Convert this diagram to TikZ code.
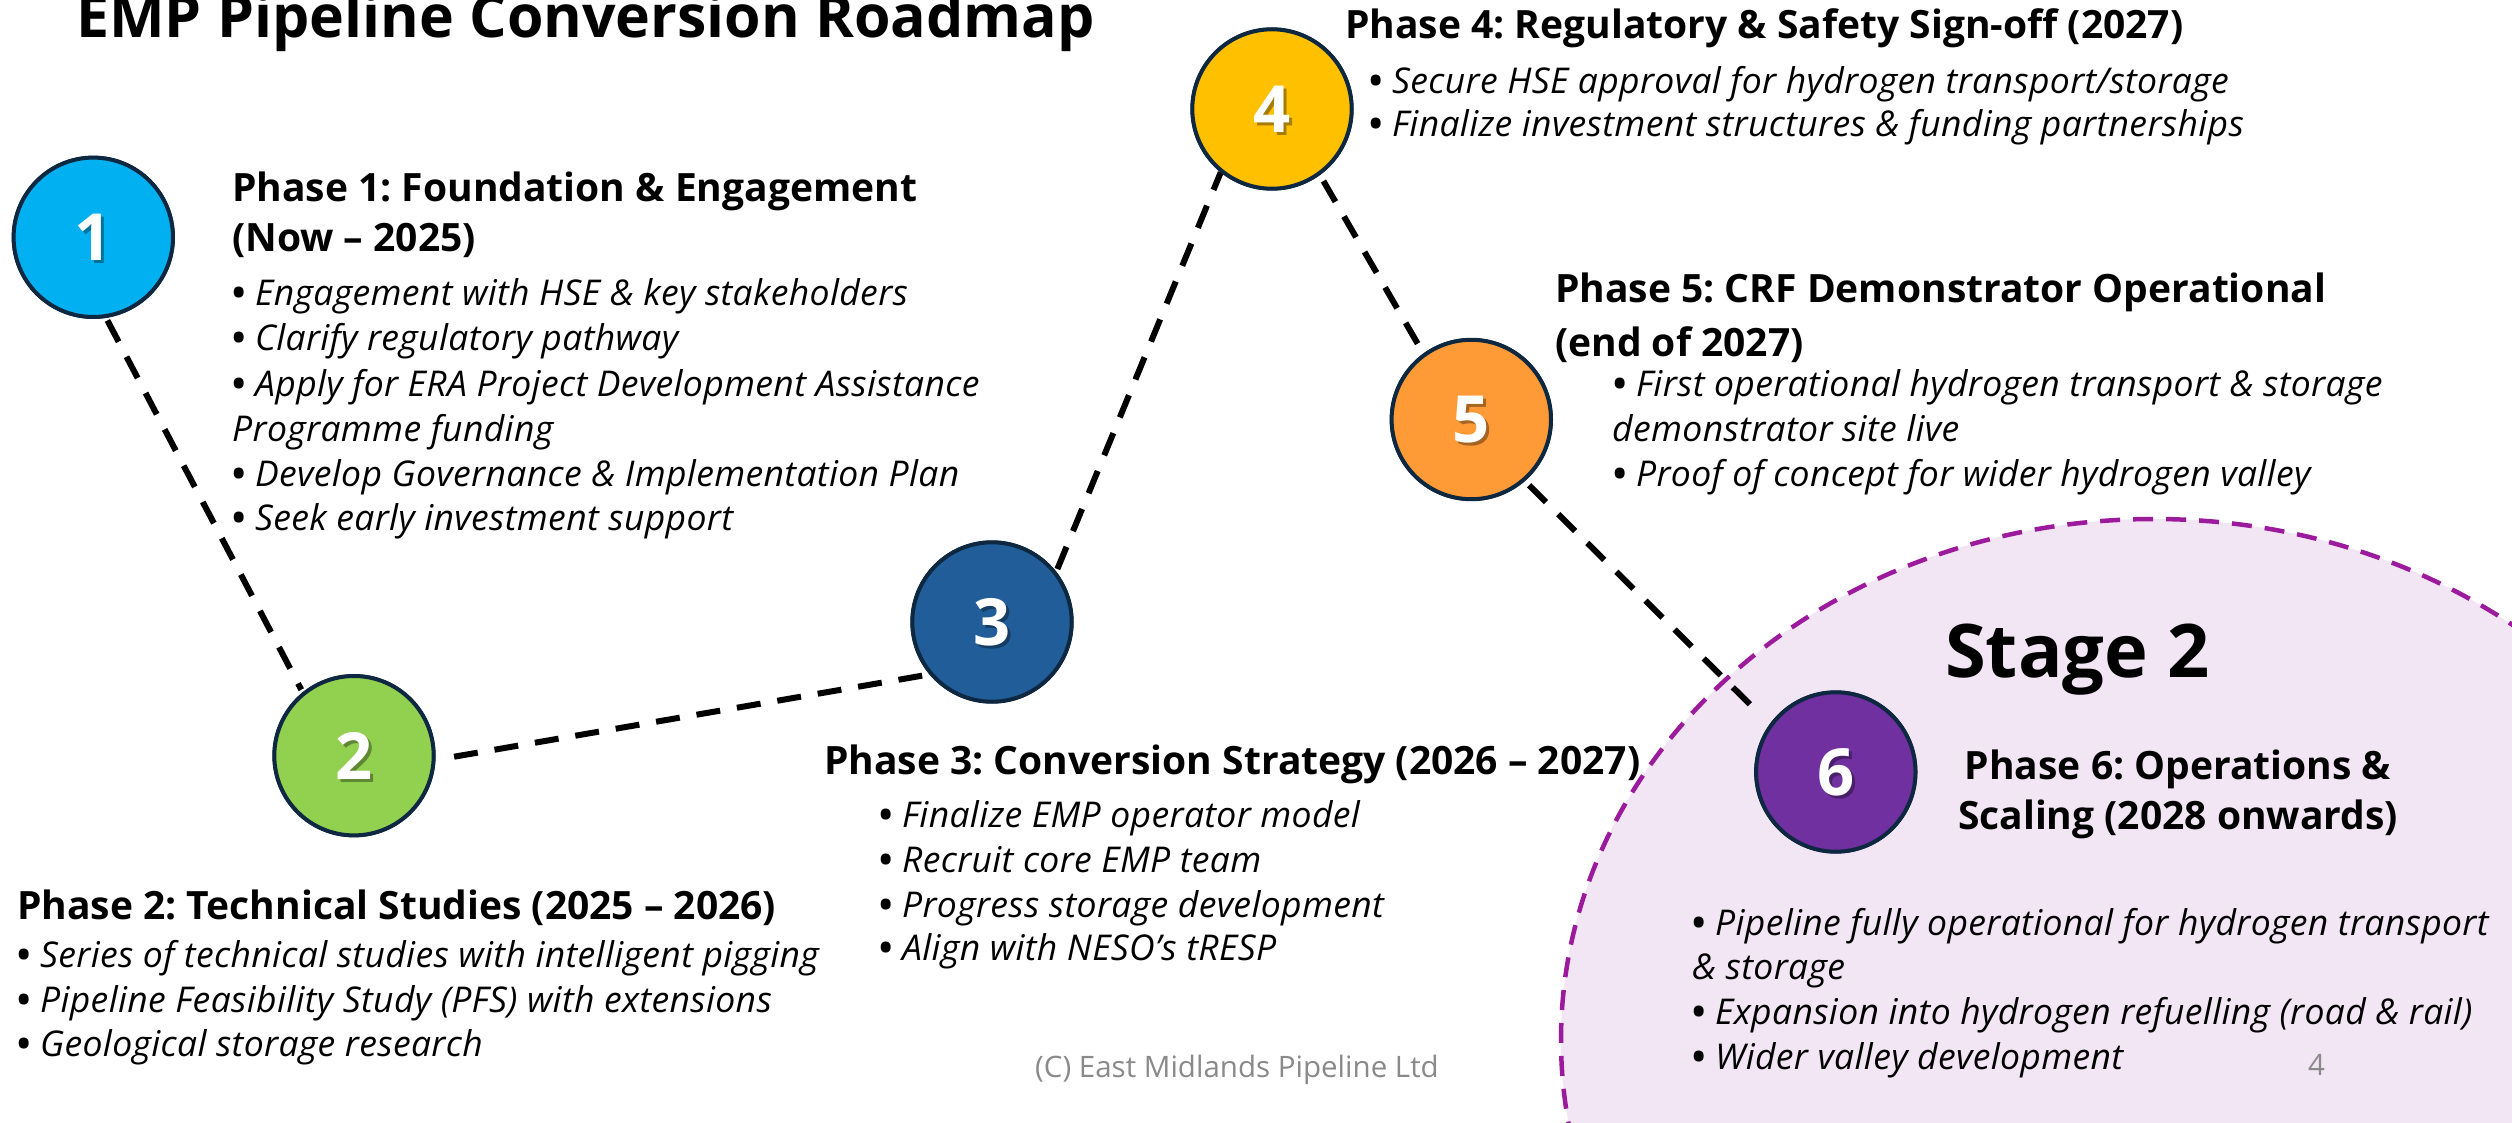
\documentclass[tikz,border=0pt]{standalone}
\usepackage{fontspec}
\setmainfont{Open Sans}
\usetikzlibrary{calc}
\definecolor{outl}{HTML}{0E2841}
\definecolor{cone}{HTML}{00B0F0}
\definecolor{ctwo}{HTML}{92D050}
\definecolor{cthree}{HTML}{215E99}
\definecolor{cfour}{HTML}{FFC000}
\definecolor{cfive}{HTML}{FF9B36}
\definecolor{csix}{HTML}{7030A0}
\definecolor{stagefill}{HTML}{F2E5F4}
\definecolor{stageline}{HTML}{9C1A9C}
\definecolor{foot}{HTML}{8A8A8A}
\newcommand{\bul}{{\upshape\bfseries•}}
\frenchspacing
\begin{document}
\begin{tikzpicture}[x=1pt,y=-1pt,
  txt/.style={anchor=base west, inner sep=0pt, font=\fontsize{35.5}{40}\selectfont\itshape\addfontfeature{LetterSpace=1}},
  head/.style={anchor=base west, inner sep=0pt, font=\fontsize{39}{46}\selectfont\bfseries},
  phase/.style={circle, draw=outl, line width=4pt, minimum size=159pt, inner sep=0pt},
  num/.style={inner sep=0pt, font=\fontsize{65}{70}\selectfont\bfseries, text=white},
  numshadow/.style={inner sep=0pt, font=\fontsize{65}{70}\selectfont\bfseries, text=black, opacity=0.35},
  conn/.style={line width=6pt, dash pattern=on 24pt off 17pt},
  footnote/.style={anchor=base west, inner sep=0pt, text=foot, font=\fontsize{29.5}{34}\selectfont}]
\useasboundingbox (0,0) rectangle (2512,1123);
\fill[white] (0,0) rectangle (2512,1123);

% Stage 2 region
\fill[stagefill] (2154,1040) ellipse [x radius=593, y radius=521];
\draw[stageline, line width=4.5pt, dash pattern=on 20pt off 13pt] (2154,1040) ellipse [x radius=593, y radius=521];

% phase circles
\node[phase, fill=cone]   (c1) at (93.3,237.3) {};
\node[phase, fill=ctwo]   (c2) at (354,755.7) {};
\node[phase, fill=cthree] (c3) at (992,622) {};
\node[phase, fill=cfour]  (c4) at (1272,109) {};
\node[phase, fill=cfive]  (c5) at (1471.3,419.5) {};
\node[phase, fill=csix]   (c6) at (1835.8,772) {};

% connectors
\draw[conn, shorten <=3pt, shorten >=3pt] (c1.-81) -- (c2.129);
\draw[conn, shorten <=19pt] (c2.-3) -- (c3.-140);
\draw[conn, shorten <=3pt] (c3.38) -- (c4.-129);
\draw[conn, shorten <=7pt, shorten >=5pt] (c4.-54) -- (c5.126);
\draw[conn, shorten <=6pt, shorten >=18pt] (c5.-49) -- (c6.144);

% redraw circles on top of connectors
\foreach \n/\col in {c1/cone,c2/ctwo,c3/cthree,c4/cfour,c5/cfive,c6/csix}{
  \draw[outl, line width=4pt, fill=\col] (\n.center) circle[radius=79.7];
}

% numbers with shadow
\foreach \n/\d in {c1/1,c2/2,c3/3,c4/4,c5/5,c6/6}{
  \node[numshadow] (s\n) at ($(\n.center)+(3,3)$) {\d};
  \node[num] (n\n) at (\n.center) {\d};
}

% title
\node[anchor=base west, inner sep=0pt, font=\fontsize{59}{66}\selectfont\bfseries] (title) at (76,37.5) {EMP Pipeline Conversion Roadmap};

% Phase 1
\node[head] (p1a) at (232,202) {Phase 1: Foundation \& Engagement};
\node[head] (p1b) at (232,252) {(Now – 2025)};
\node[txt] (p1l1) at (232,306) {\bul{} Engagement with HSE \& key stakeholders};
\node[txt] (p1l2) at (232,351) {\bul{} Clarify regulatory pathway};
\node[txt] (p1l3) at (232,396) {\bul{} Apply for ERA Project Development Assistance};
\node[txt] (p1l4) at (232,441) {Programme funding};
\node[txt] (p1l5) at (232,486) {\bul{} Develop Governance \& Implementation Plan};
\node[txt] (p1l6) at (232,530) {\bul{} Seek early investment support};

% Phase 2
\node[head] (p2a) at (17,919) {Phase 2: Technical Studies (2025 – 2026)};
\node[txt] (p2l1) at (17,967) {\bul{} Series of technical studies with intelligent pigging};
\node[txt] (p2l2) at (17,1012) {\bul{} Pipeline Feasibility Study (PFS) with extensions};
\node[txt] (p2l3) at (17,1056) {\bul{} Geological storage research};

% Phase 3
\node[head] (p3a) at (824,774) {Phase 3: Conversion Strategy (2026 – 2027)};
\node[txt] (p3l1) at (879,827) {\bul{} Finalize EMP operator model};
\node[txt] (p3l2) at (879,872) {\bul{} Recruit core EMP team};
\node[txt] (p3l3) at (879,917) {\bul{} Progress storage development};
\node[txt] (p3l4) at (879,960) {\bul{} Align with NESO’s tRESP};

% Phase 4
\node[head] (p4a) at (1345,39) {Phase 4: Regulatory \& Safety Sign-off (2027)};
\node[txt] (p4l1) at (1369,94) {\bul{} Secure HSE approval for hydrogen transport/storage};
\node[txt] (p4l2) at (1369,137) {\bul{} Finalize investment structures \& funding partnerships};

% Phase 5
\node[head] (p5a) at (1555,303) {Phase 5: CRF Demonstrator Operational};
\node[head] (p5b) at (1555,356) {(end of 2027)};
\node[txt] (p5l1) at (1613,396) {\bul{} First operational hydrogen transport \& storage};
\node[txt] (p5l2) at (1612,441) {demonstrator site live};
\node[txt] (p5l3) at (1613,486) {\bul{} Proof of concept for wider hydrogen valley};

% Stage 2 / Phase 6
\node[anchor=base west, inner sep=0pt, font=\fontsize{74}{80}\selectfont\bfseries] (stage) at (1945,677) {Stage 2};
\node[head, anchor=base] (p6a) at (2178,779) {Phase 6: Operations \&};
\node[head, anchor=base] (p6b) at (2178,829.5) {Scaling (2028 onwards)};
\node[txt] (p6l1) at (1692,935) {\bul{} Pipeline fully operational for hydrogen transport};
\node[txt] (p6l2) at (1692,979) {\& storage};
\node[txt] (p6l3) at (1692,1024) {\bul{} Expansion into hydrogen refuelling (road \& rail)};
\node[txt] (p6l4) at (1692,1069) {\bul{} Wider valley development};

% footer
\node[footnote] (copy) at (1035,1077) {(C) East Midlands Pipeline Ltd};
\node[footnote] (pageno) at (2308,1075.5) {4};
\end{tikzpicture}
\end{document}
